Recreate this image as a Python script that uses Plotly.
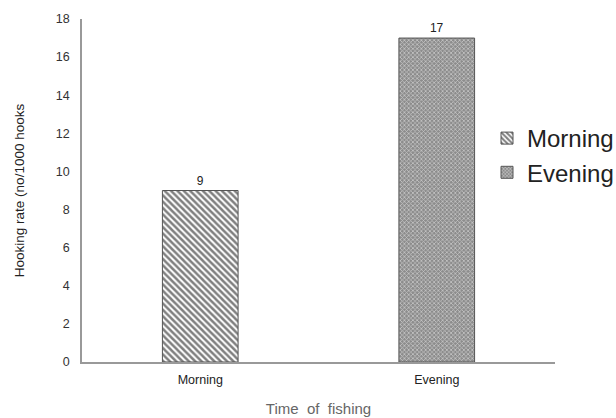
import plotly.graph_objects as go

# Hooking rate by time of fishing
categories = ["Morning", "Evening"]
rates = [9, 17]
y_ticks = [0, 2, 4, 6, 8, 10, 12, 14, 16, 18]

patterns = [
    dict(shape="\\", size=4.5, solidity=0.55, fgcolor="#000000", bgcolor="#ffffff"),
    dict(shape="x", size=3, solidity=0.45, fgcolor="#ffffff", bgcolor="#8c8c8c"),
]

fig = go.Figure()
for cat, val, pat in zip(categories, rates, patterns):
    fig.add_trace(go.Bar(
        x=[cat], y=[val], name=cat,
        width=0.32,
        marker=dict(color="#ffffff", pattern=pat,
                    line=dict(color="#555555", width=1)),
        text=[str(val)], textposition="outside",
        textfont=dict(family="Liberation Sans, Arial", size=12, color="#222222"),
        cliponaxis=False,
    ))

fig.update_layout(
    width=616, height=418,
    margin=dict(l=82, r=61, t=19, b=56, autoexpand=False),
    barmode="overlay",
    plot_bgcolor="white", paper_bgcolor="white",
    font=dict(family="Liberation Sans, Arial", color="#222222"),
    showlegend=True,
    legend=dict(
        xref="container", yref="container",
        x=487 / 616, y=1 - 116 / 418, xanchor="left", yanchor="top",
        font=dict(size=24, color="#222222"),
        itemwidth=30, tracegroupgap=0,
        bgcolor="rgba(0,0,0,0)",
    ),
    xaxis=dict(
        categoryorder="array", categoryarray=categories,
        showline=True, linecolor="#999999", linewidth=1.5,
        ticks="", showgrid=False, ticklabelstandoff=5,
        tickfont=dict(size=12.5, color="#222222"),
        title=dict(text="Time\u00a0\u00a0of\u00a0\u00a0fishing", standoff=18,
                   font=dict(size=15, color="#666666")),
    ),
    yaxis=dict(
        range=[0, 18], tickvals=y_ticks,
        showline=True, linecolor="#999999", linewidth=1.5,
        ticks="", showgrid=False, zeroline=False,
        ticklabelstandoff=8,
        tickfont=dict(size=12.5, color="#333333"),
        title=dict(text="Hooking rate (no/1000 hooks", standoff=28,
                   font=dict(size=13.5, color="#222222")),
    ),
)

fig.write_html("out.html")
